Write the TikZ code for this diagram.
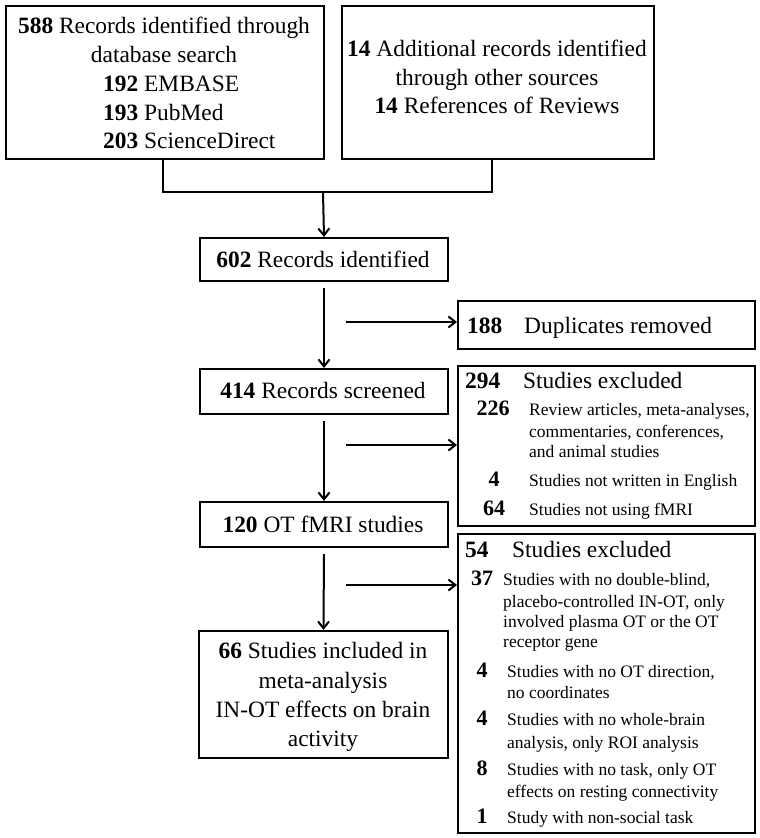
\documentclass[tikz,border=0pt]{standalone}
\usepackage{fontspec}
\setmainfont{Liberation Serif}
\usetikzlibrary{arrows.meta,calc}
\begin{document}
\begin{tikzpicture}[x=1pt,y=-1pt,
  box/.style={draw,line width=2pt,inner sep=0,anchor=north west},
  arr/.style={line width=2pt,-{Straight Barb[length=7pt,width=11pt]}},
  link/.style={line width=2pt},
  txt/.style={inner sep=0,font=\fontsize{23.4}{29}\selectfont},
  sub/.style={inner sep=0,font=\fontsize{17.5}{21}\selectfont,anchor=base west},
  num/.style={inner sep=0,font=\fontsize{22}{26}\selectfont\bfseries,anchor=base}]
\useasboundingbox (0,0) rectangle (760,838);
% boxes
\node[box,minimum width=318,minimum height=153] (b1) at (5,5) {};
\node[box,minimum width=312,minimum height=153] (b2) at (341,5) {};
\node[box,minimum width=248,minimum height=43] (b3) at (199,237) {};
\node[box,minimum width=297,minimum height=48] (b4) at (457,300) {};
\node[box,minimum width=248,minimum height=45] (b5) at (199,368) {};
\node[box,minimum width=297,minimum height=160] (b6) at (457,365) {};
\node[box,minimum width=248,minimum height=45] (b7) at (199,501) {};
\node[box,minimum width=297,minimum height=299] (b8) at (457,533) {};
\node[box,minimum width=249,minimum height=127] (b9) at (198,630) {};
% connectors
\coordinate (j1) at (163,192);
\coordinate (j2) at (492,192);
\coordinate (jm) at (323,192);
\draw[link] (b1.south -| j1) -- (j1) -- (j2) -- (b2.south -| j2);
\draw[arr] (jm) -- (b3.north);
\draw[arr,shorten <=6pt] (b3.south) -- (b5.north);
\draw[arr,shorten <=6pt] (b5.south) -- (b7.north);
\draw[arr,shorten <=6pt] (b7.south) -- (b9.north);
\coordinate (h1) at (346,322);
\coordinate (h2) at (346,445);
\coordinate (h3) at (346,585);
\draw[arr] (h1) -- (h1 -| b4.west);
\draw[arr] (h2) -- (h2 -| b6.west);
\draw[arr] (h3) -- (h3 -| b8.west);
% box 1
\node[txt,anchor=base] (t1a) at (164,33) {\textbf{588} Records identified through};
\node[txt,anchor=base] (t1b) at (164,62) {database search};
\node[txt,anchor=base west] (t1c) at (103,91) {\textbf{192} EMBASE};
\node[txt,anchor=base west] (t1d) at (103,120) {\textbf{193} PubMed};
\node[txt,anchor=base west] (t1e) at (103,148) {\textbf{203} ScienceDirect};
% box 2
\node[txt,anchor=base] (t2a) at (497,56) {\textbf{14} Additional records identified};
\node[txt,anchor=base] (t2b) at (497,85) {through other sources};
\node[txt,anchor=base] (t2c) at (497,113) {\textbf{14} References of Reviews};
% left column
\node[txt,anchor=base] (t3) at (323,267) {\textbf{602} Records identified};
\node[txt,anchor=base] (t5) at (323,398) {\textbf{414} Records screened};
\node[txt,anchor=base] (t7) at (323,532) {\textbf{120} OT fMRI studies};
\node[txt,anchor=base] (t9a) at (323,658) {\textbf{66} Studies included in};
\node[txt,anchor=base] (t9b) at (323,688) {meta-analysis};
\node[txt,anchor=base] (t9c) at (323,717) {IN-OT effects on brain};
\node[txt,anchor=base] (t9d) at (323,746) {activity};
% box 188
\node[txt,anchor=base west] (t4n) at (467,333) {\textbf{188}};
\node[txt,anchor=base west] (t4) at (524,333) {Duplicates removed};
% box 294
\node[txt,anchor=base west] (t6n) at (465,388) {\textbf{294}};
\node[txt,anchor=base west] (t6) at (523,388) {Studies excluded};
\node[num] (n226) at (493,415) {226};
\node[sub] (s226a) at (529,415) {Review articles, meta-analyses,};
\node[sub] (s226b) at (529,437) {commentaries, conferences,};
\node[sub] (s226c) at (529,457) {and animal studies};
\node[num] (n4a) at (494,486) {4};
\node[sub] (s4a) at (529,486) {Studies not written in English};
\node[num] (n64) at (494,515) {64};
\node[sub] (s64) at (529,515) {Studies not using fMRI};
% box 54
\node[txt,anchor=base west] (t8n) at (465,557) {\textbf{54}};
\node[txt,anchor=base west] (t8) at (512,557) {Studies excluded};
\node[num] (n37) at (482,585) {37};
\node[sub] (s37a) at (503,585) {Studies with no double-blind,};
\node[sub] (s37b) at (503,607) {placebo-controlled IN-OT, only};
\node[sub] (s37c) at (503,627) {involved plasma OT or the OT};
\node[sub] (s37d) at (503,647) {receptor gene};
\node[num] (n4b) at (482,677) {4};
\node[sub] (s4ba) at (507,677) {Studies with no OT direction,};
\node[sub] (s4bb) at (507,698) {no coordinates};
\node[num] (n4c) at (482,725) {4};
\node[sub] (s4ca) at (507,725) {Studies with no whole-brain};
\node[sub] (s4cb) at (507,748) {analysis, only ROI analysis};
\node[num] (n8) at (482,775) {8};
\node[sub] (s8a) at (507,775) {Studies with no task, only OT};
\node[sub] (s8b) at (507,797) {effects on resting connectivity};
\node[num] (n1) at (482,823) {1};
\node[sub] (s1) at (507,823) {Study with non-social task};
\end{tikzpicture}
\end{document}
